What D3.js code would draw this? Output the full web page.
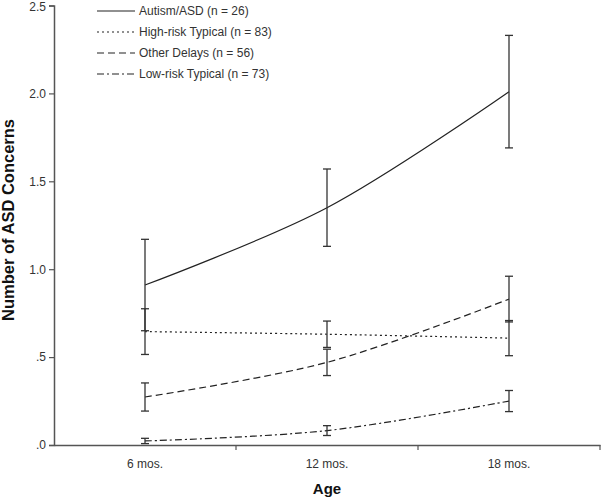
<!DOCTYPE html>
<html><head><meta charset="utf-8">
<script src="https://cdn.jsdelivr.net/npm/d3@7"></script>
<style>body{margin:0;background:#fff}svg{display:block}text{font-family:"Liberation Sans",Arial,sans-serif}</style>
</head><body>
<svg id="c" width="601" height="499"></svg>
<script>
const categories = ["6 mos.", "12 mos.", "18 mos."];
const seriesNames = ["Autism/ASD (n = 26)", "High-risk Typical (n = 83)", "Other Delays (n = 56)", "Low-risk Typical (n = 73)"];
const autismMean = [0.91, 1.35, 2.01];
const autismErr = [0.26, 0.22, 0.32];
const highRiskMean = [0.645, 0.63, 0.608];
const highRiskErr = [0.13, 0.075, 0.10];
const otherMean = [0.273, 0.47, 0.83];
const otherErr = [0.08, 0.075, 0.13];
const lowRiskMean = [0.023, 0.082, 0.25];
const lowRiskErr = [0.015, 0.028, 0.06];
const yTicks = [0, 0.5, 1.0, 1.5, 2.0, 2.5];
const yTickLabels = [".0", ".5", "1.0", "1.5", "2.0", "2.5"];

const series = [
  {name: seriesNames[0], mean: autismMean, err: autismErr, dash: null},
  {name: seriesNames[1], mean: highRiskMean, err: highRiskErr, dash: "2,3"},
  {name: seriesNames[2], mean: otherMean, err: otherErr, dash: "7,4"},
  {name: seriesNames[3], mean: lowRiskMean, err: lowRiskErr, dash: "7,3,2,3"}
];

const svg = d3.select("#c");
const L = 54, R = 600, T = 5.5, B = 445;
const x = d3.scaleBand().domain(categories).range([L, R]);
const y = d3.scaleLinear().domain([0, 2.5]).range([B, T]);
const cx = c => x(c) + x.bandwidth() / 2;
const axisCol = "#555";
const lineCol = "#222";

// y axis
const ya = svg.append("g").attr("transform", `translate(${L},0)`)
  .call(d3.axisLeft(y).tickValues(yTicks).tickFormat((d, i) => yTickLabels[i]).tickSize(5).tickPadding(3));
ya.select(".domain").attr("stroke", axisCol).attr("stroke-width", 1.5);
ya.selectAll(".tick line").attr("stroke", axisCol).attr("stroke-width", 1.2);
ya.selectAll(".tick text").attr("font-size", 12).attr("fill", "#333").attr("font-family", "Liberation Sans, Arial, sans-serif")
  .attr("dy", (d) => d === 2.5 ? "0.42em" : "0.32em");

// x axis
const xa = svg.append("g").attr("transform", `translate(0,${B})`)
  .call(d3.axisBottom(x).tickSize(0).tickPadding(14));
xa.select(".domain").attr("stroke", axisCol).attr("stroke-width", 1.5);
xa.selectAll(".tick line").remove();
xa.selectAll(".tick text").attr("font-size", 12).attr("fill", "#333").attr("font-family", "Liberation Sans, Arial, sans-serif");
// x boundary ticks
const bounds = categories.map(c => x(c) + x.bandwidth());
xa.selectAll(".btick").data(bounds).enter().append("line")
  .attr("x1", d => d).attr("x2", d => d).attr("y1", 0).attr("y2", 5)
  .attr("stroke", axisCol).attr("stroke-width", 1.2);

// lines
const line = d3.line().x((d, i) => cx(categories[i])).y(d => y(d)).curve(d3.curveCatmullRom.alpha(0.5));
series.forEach(s => {
  svg.append("path").attr("d", line(s.mean)).attr("fill", "none")
    .attr("stroke", lineCol).attr("stroke-width", 1.2)
    .attr("stroke-dasharray", s.dash);
});

// error bars
series.forEach(s => {
  s.mean.forEach((m, i) => {
    const px = cx(categories[i]);
    const g = svg.append("g").attr("stroke", "#333").attr("stroke-width", 1.3);
    g.append("line").attr("x1", px).attr("x2", px).attr("y1", y(m - s.err[i])).attr("y2", y(m + s.err[i]));
    [m - s.err[i], m + s.err[i]].forEach(v => {
      g.append("line").attr("x1", px - 4).attr("x2", px + 4).attr("y1", y(v)).attr("y2", y(v));
    });
  });
});

// legend
const lg = svg.append("g");
series.forEach((s, i) => {
  const ly = 11 + i * 21;
  lg.append("line").attr("x1", 97).attr("x2", 135).attr("y1", ly).attr("y2", ly)
    .attr("stroke", lineCol).attr("stroke-width", 1.2).attr("stroke-dasharray", s.dash);
  lg.append("text").attr("x", 139).attr("y", ly + 4).attr("font-size", 12).attr("fill", "#333").text(s.name);
});

// titles
svg.append("text").attr("x", cx(categories[1])).attr("y", 494).attr("text-anchor", "middle")
  .attr("font-size", 15).attr("font-weight", "bold").attr("fill", "#111").text("Age");
svg.append("text").attr("transform", "translate(14,220) rotate(-90)").attr("text-anchor", "middle")
  .attr("font-size", 16.5).attr("font-weight", "bold").attr("fill", "#111").text("Number of ASD Concerns");
</script>
</body></html>
